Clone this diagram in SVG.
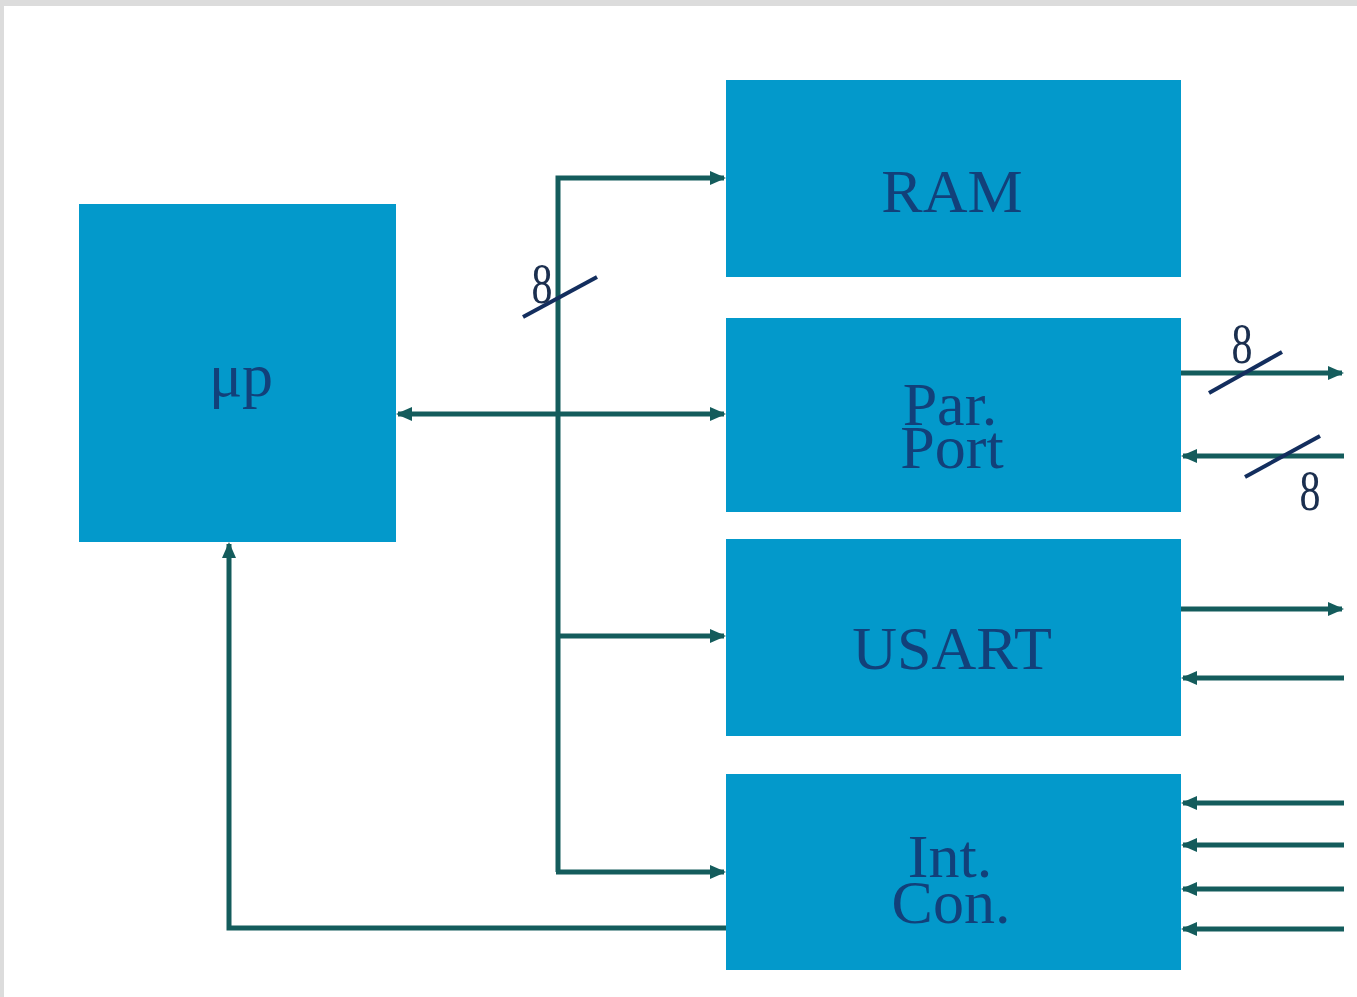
<svg xmlns="http://www.w3.org/2000/svg" width="1357" height="997" viewBox="0 0 1357 997">
<style>
.box{fill:#0399cb}
.lbl{font-family:"Liberation Serif","Times New Roman",serif;font-size:62px;fill:#12407a;text-anchor:middle}
.w{stroke:#145c5c;stroke-width:5;fill:none}
.sl{stroke:#132e5e;stroke-width:4;fill:none}
.n8{font-family:"Liberation Serif","Times New Roman",serif;font-size:42px;fill:#1b2f4f;text-anchor:middle}
</style>
<defs>
<marker id="ah" markerWidth="10" markerHeight="10" refX="8" refY="5" orient="auto-start-reverse" markerUnits="userSpaceOnUse" viewBox="0 0 10 10">
<path d="M0,0 L10,5 L0,10 z" fill="#145c5c"/>
</marker>
<marker id="ahb" markerWidth="16" markerHeight="14" refX="14" refY="7" orient="auto-start-reverse" markerUnits="userSpaceOnUse" viewBox="0 0 16 14">
<path d="M0,0 L16,7 L0,14 z" fill="#145c5c"/>
</marker>
</defs>
<rect x="0" y="0" width="1357" height="997" fill="#ffffff"/>
<rect x="0" y="0" width="1357" height="6" fill="#dcdcdc"/>
<rect x="0" y="0" width="4" height="997" fill="#dcdcdc"/>

<g id="connectors">
<path class="w" d="M558,872 V178 H724" marker-end="url(#ahb)"/>
<path class="w" d="M398,414 H724" marker-start="url(#ahb)" marker-end="url(#ahb)"/>
<path class="w" d="M558,636 H724" marker-end="url(#ahb)"/>
<path class="w" d="M556,872 H724" marker-end="url(#ahb)"/>
<path class="w" d="M728,928 H229 V544" marker-end="url(#ahb)"/>
<path class="w" d="M1181,373 H1342" marker-end="url(#ahb)"/>
<path class="w" d="M1344,456 H1183" marker-end="url(#ahb)"/>
<path class="w" d="M1181,609 H1342" marker-end="url(#ahb)"/>
<path class="w" d="M1344,678 H1183" marker-end="url(#ahb)"/>
<path class="w" d="M1344,803 H1183" marker-end="url(#ahb)"/>
<path class="w" d="M1344,845 H1183" marker-end="url(#ahb)"/>
<path class="w" d="M1344,889 H1183" marker-end="url(#ahb)"/>
<path class="w" d="M1344,929 H1183" marker-end="url(#ahb)"/>
<line class="sl" x1="523" y1="317" x2="597" y2="277"/>
<line class="sl" x1="1209" y1="393" x2="1282" y2="352"/>
<line class="sl" x1="1245" y1="477" x2="1320" y2="436"/>
<text class="n8" transform="translate(542,303) scale(1,1.35)">8</text>
<text class="n8" transform="translate(1242,363) scale(1,1.35)">8</text>
<text class="n8" transform="translate(1310,510) scale(1,1.35)">8</text>
</g>

<g id="up">
<rect class="box" x="79" y="204" width="317" height="338"/>
<text class="lbl" x="241" y="396">μp</text>
</g>
<g id="ram">
<rect class="box" x="726" y="80" width="455" height="197"/>
<text class="lbl" x="952" y="212">RAM</text>
</g>
<g id="parport">
<rect class="box" x="726" y="318" width="455" height="194"/>
<text class="lbl" x="950" y="425">Par.</text>
<text class="lbl" x="952" y="468">Port</text>
</g>
<g id="usart">
<rect class="box" x="726" y="539" width="455" height="197"/>
<text class="lbl" x="952" y="669">USART</text>
</g>
<g id="intcon">
<rect class="box" x="726" y="774" width="455" height="196"/>
<text class="lbl" x="950" y="877">Int.</text>
<text class="lbl" x="951" y="923">Con.</text>
</g>
</svg>
